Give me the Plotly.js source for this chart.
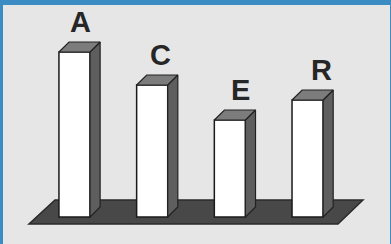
<!DOCTYPE html>
<html>
<head>
<meta charset="utf-8">
<script src="https://cdn.plot.ly/plotly-3.0.1.min.js"></script>
<style>html,body{margin:0;padding:0;overflow:hidden;}#chart{width:391px;height:244px;}</style>
</head>
<body>
<div id="chart"></div>
<script>
// Data
const categories = ["A", "C", "E", "R"];
const values = [165, 132, 97, 117];
const labels = ["A", "C", "E", "R"];

// 3D depth (in axis units)
const barWidth = 0.4;
const depthX = 0.13;
const depthY = 10;
const labelShift = [0.08, 0.11, 0.14, 0.18];

const idx = categories.map((c, i) => i);
const traces = [];

// front faces
traces.push({
  type: "bar", x: idx, y: values, width: barWidth,
  marker: { color: "#ffffff", line: { color: "#1a1a1a", width: 1.5 } },
  hoverinfo: "skip", showlegend: false
});

// side and top faces
idx.forEach(i => {
  const xl = i - barWidth / 2, xr = i + barWidth / 2, h = values[i];
  traces.push({
    type: "scatter", mode: "lines", fill: "toself", fillcolor: "#5e5e5e",
    x: [xr, xr + depthX, xr + depthX, xr, xr],
    y: [0, depthY, h + depthY, h, 0],
    line: { color: "#222", width: 1.2 }, hoverinfo: "skip", showlegend: false
  });
  traces.push({
    type: "scatter", mode: "lines", fill: "toself", fillcolor: "#7c7c7c",
    x: [xl, xl + depthX, xr + depthX, xr, xl],
    y: [h, h + depthY, h + depthY, h, h],
    line: { color: "#222", width: 1.2 }, hoverinfo: "skip", showlegend: false
  });
});

// floor (in axis units)
const floorX = [-0.586, -0.251, 3.713, 3.391];
const floorY = [-7, 17, 17, -7];
const floorPath = "M " + floorX.map((x, k) => x + "," + floorY[k]).join(" L ") + " Z";

const annotations = idx.map(i => ({
  x: i + labelShift[i], y: values[i] + depthY + 20, xref: "x", yref: "y",
  text: "<b>" + labels[i] + "</b>", showarrow: false,
  xanchor: "center", yanchor: "middle",
  font: { family: "Liberation Sans, Arial, sans-serif", size: 29, color: "#262626" }
}));

const layout = {
  width: 391, height: 244,
  margin: { l: 3, r: 1, t: 5, b: 0, pad: 0 },
  paper_bgcolor: "#3b8cc2",
  plot_bgcolor: "#e6e6e6",
  showlegend: false,
  xaxis: { range: [-0.92, 4.061], showgrid: false, zeroline: false, showticklabels: false, showline: false, ticks: "" },
  yaxis: { range: [-27, 212], showgrid: false, zeroline: false, showticklabels: false, showline: false, ticks: "" },
  shapes: [{
    type: "path", xref: "x", yref: "y", path: floorPath, layer: "below",
    fillcolor: "#484848", line: { color: "#2a2a2a", width: 1.5 }
  }],
  annotations: annotations
};

Plotly.newPlot("chart", traces, layout, { staticPlot: true, displayModeBar: false });
</script>
</body>
</html>
